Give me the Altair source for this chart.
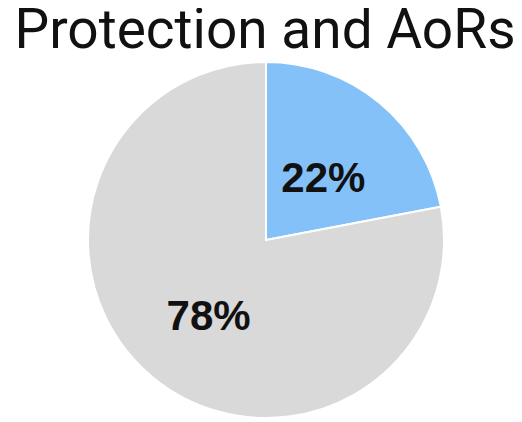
import altair as alt
import pandas as pd

title_text = "Protection and AoRs"
categories = ["Yes", "No"]
values = [22, 78]
labels = ["22%", "78%"]
colors = ["#85c1f9", "#d9d9d9"]

df = pd.DataFrame({"category": categories, "value": values, "label": labels, "order": [0, 1]})

base = alt.Chart(df).encode(
    theta=alt.Theta("value:Q", stack=True),
    order=alt.Order("order:Q"),
)

arc = base.mark_arc(outerRadius=178, stroke="white", strokeWidth=2).encode(
    color=alt.Color("category:N", scale=alt.Scale(domain=categories, range=colors), legend=None)
)

text = base.mark_text(radius=90, dy=8, font="Liberation Sans", fontWeight="bold", fontSize=42,
                      color="#111111", align="center", baseline="middle").encode(
    text="label:N"
)

title = alt.Chart(pd.DataFrame({"t": [title_text]})).mark_text(
    font="Roboto", fontSize=55, color="#111111", align="center", baseline="alphabetic"
).encode(
    x=alt.value(189),
    y=alt.value(-12),
    text="t:N",
)

chart = (arc + text + title).properties(
    width=380,
    height=360,
    autosize=alt.AutoSizeParams(type="none"),
    padding={"left": 68, "top": 52, "right": 58, "bottom": 2},
).configure_view(stroke=None)

chart.save("out.html", embed_options={"renderer": "svg", "actions": False})
